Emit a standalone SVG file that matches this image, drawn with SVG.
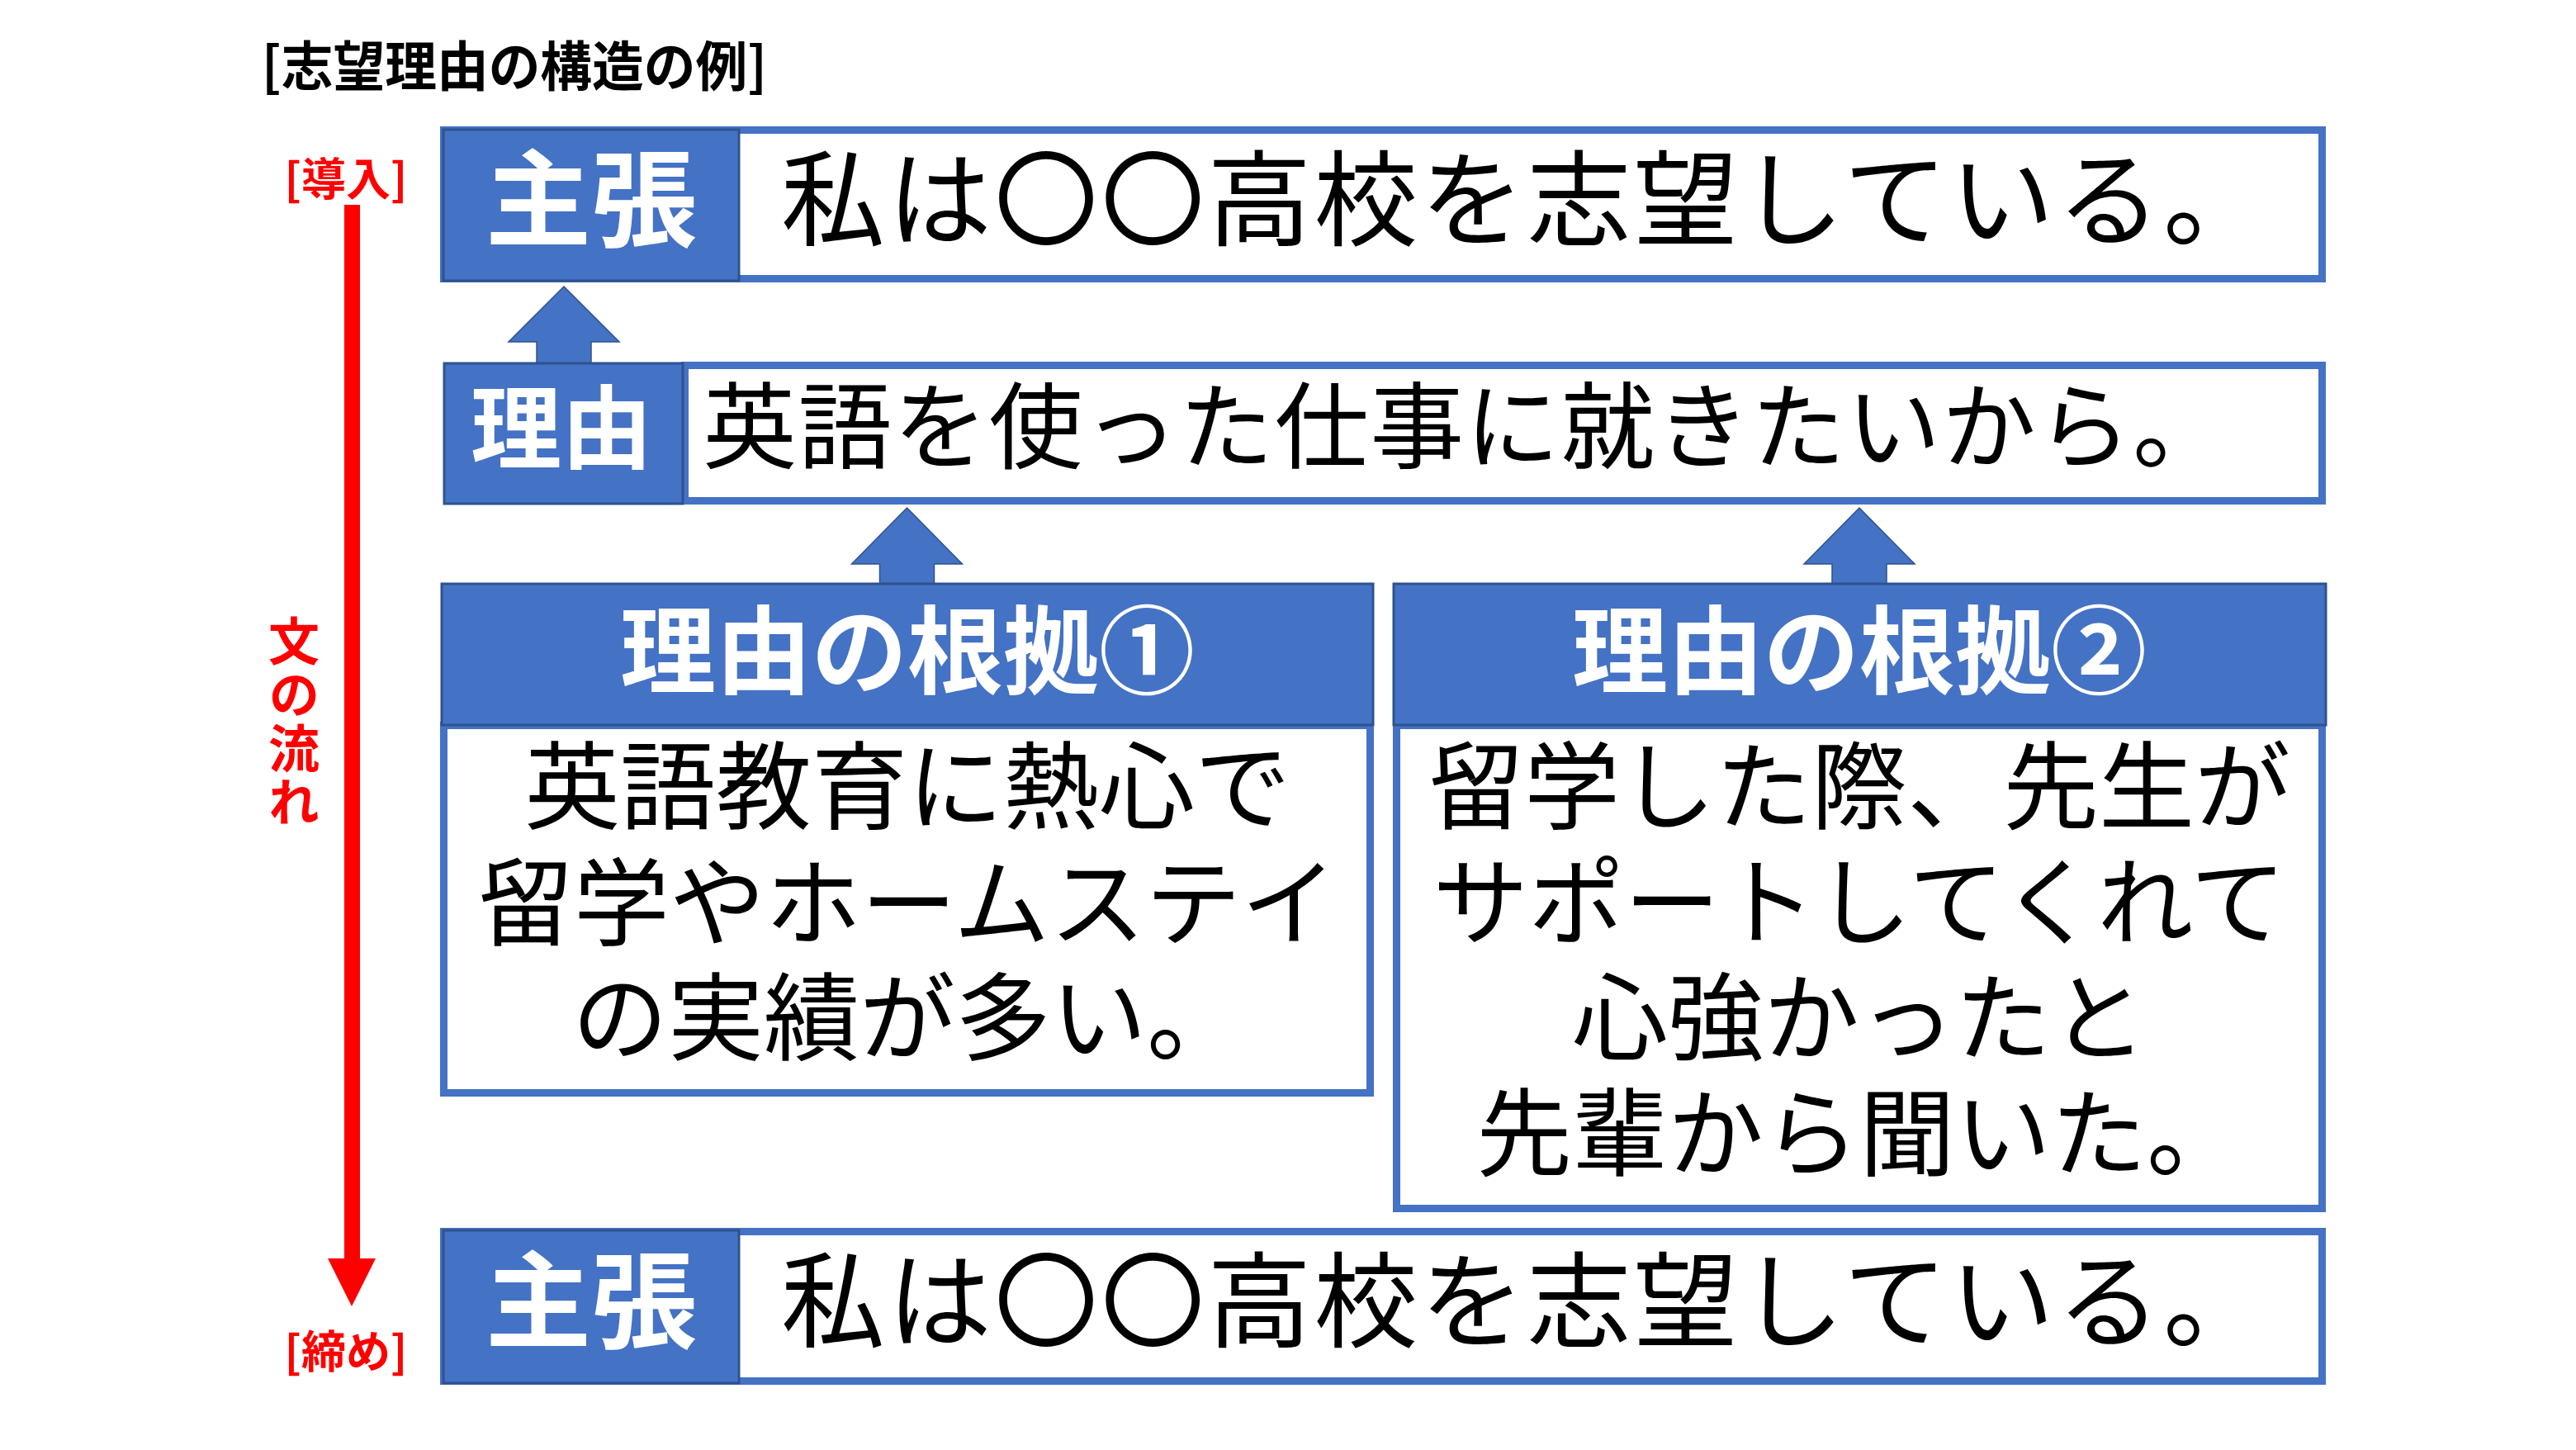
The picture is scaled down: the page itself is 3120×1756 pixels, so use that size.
<svg xmlns="http://www.w3.org/2000/svg" width="3120" height="1756" viewBox="0 0 3120 1756">
<style>
.frame{fill:#FFFFFF;stroke:#4472C4;stroke-width:9}
.label{fill:#4472C4;stroke:#2F528F;stroke-width:3}
.blk{fill:#4472C4;stroke:#2F528F;stroke-width:1.5}
.jp{font-family:"Noto Sans CJK JP","Noto Sans CJK SC",sans-serif}
.lt{font-weight:bold;fill:#FFFFFF}
.body{font-weight:400;fill:#000000}
.red{font-weight:bold;fill:#FF0000}
</style>
<rect width="3120" height="1756" fill="#FFFFFF"/>
<text id="title" class="jp" x="317" y="104" font-size="65" font-weight="bold" fill="#000000" textLength="612" lengthAdjust="spacingAndGlyphs">[志望理由の構造の例]</text>

<g id="flow">
<rect x="417" y="248" width="19" height="1278" fill="#FF0000"/>
<polygon points="397,1524 455,1524 426,1582" fill="#FF0000"/>
<text class="jp red" x="419" y="237" font-size="54" text-anchor="middle">[導入]</text>
<text class="jp red" x="419" y="1657" font-size="54" text-anchor="middle">[締め]</text>
<text class="jp red" x="356" y="745" font-size="62" writing-mode="vertical-rl" letter-spacing="3">文の流れ</text>
</g>

<g id="connectors">
<polygon class="blk" points="683,347 750,414 716,414 716,440 650,440 650,414 616,414"/>
<polygon class="blk" points="1098.5,615 1165.5,683 1131.5,683 1131.5,708 1065.5,708 1065.5,683 1031.5,683"/>
<polygon class="blk" points="2252,615 2319,683 2285,683 2285,708 2219,708 2219,683 2185,683"/>
</g>

<g id="claim-top">
<rect class="frame" x="537.5" y="157.5" width="2275" height="180"/>
<rect class="label" x="537" y="157" width="358" height="183"/>
<text class="jp lt" x="716" y="289" font-size="128" text-anchor="middle">主張</text>
<text class="jp body" x="946" y="288" font-size="126" textLength="1800" lengthAdjust="spacing">私は〇〇高校を志望している。</text>
</g>

<g id="reason">
<rect class="frame" x="829.5" y="442.5" width="1983" height="164"/>
<rect class="label" x="538" y="440" width="289" height="170"/>
<text class="jp lt" x="680" y="559" font-size="110" text-anchor="middle">理由</text>
<text class="jp body" x="851" y="558" font-size="114" textLength="1846" lengthAdjust="spacing">英語を使った仕事に就きたいから。</text>
</g>

<g id="evidence1">
<rect class="frame" x="537.5" y="878.5" width="1122" height="445"/>
<rect class="label" x="535" y="707" width="1128" height="171"/>
<text class="jp lt" x="1099" y="831" font-size="116" text-anchor="middle">理由の根拠①</text>
<text class="jp body" font-size="116" text-anchor="middle"><tspan x="1099" y="995">英語教育に熱心で</tspan><tspan x="1099" y="1136">留学やホームステイ</tspan><tspan x="1099" y="1275">の実績が多い。</tspan></text>
</g>

<g id="evidence2">
<rect class="frame" x="1691.5" y="878.5" width="1121" height="585"/>
<rect class="label" x="1688" y="707" width="1129" height="171"/>
<text class="jp lt" x="2252" y="831" font-size="116" text-anchor="middle">理由の根拠②</text>
<text class="jp body" font-size="116" text-anchor="middle"><tspan x="2252" y="995">留学した際、先生が</tspan><tspan x="2252" y="1135">サポートしてくれて</tspan><tspan x="2252" y="1275">心強かったと</tspan><tspan x="2252" y="1415">先輩から聞いた。</tspan></text>
</g>

<g id="claim-bottom">
<rect class="frame" x="537.5" y="1491.5" width="2275" height="181"/>
<rect class="label" x="537" y="1490" width="358" height="185"/>
<text class="jp lt" x="716" y="1623" font-size="128" text-anchor="middle">主張</text>
<text class="jp body" x="946" y="1622" font-size="126" textLength="1800" lengthAdjust="spacing">私は〇〇高校を志望している。</text>
</g>
</svg>
